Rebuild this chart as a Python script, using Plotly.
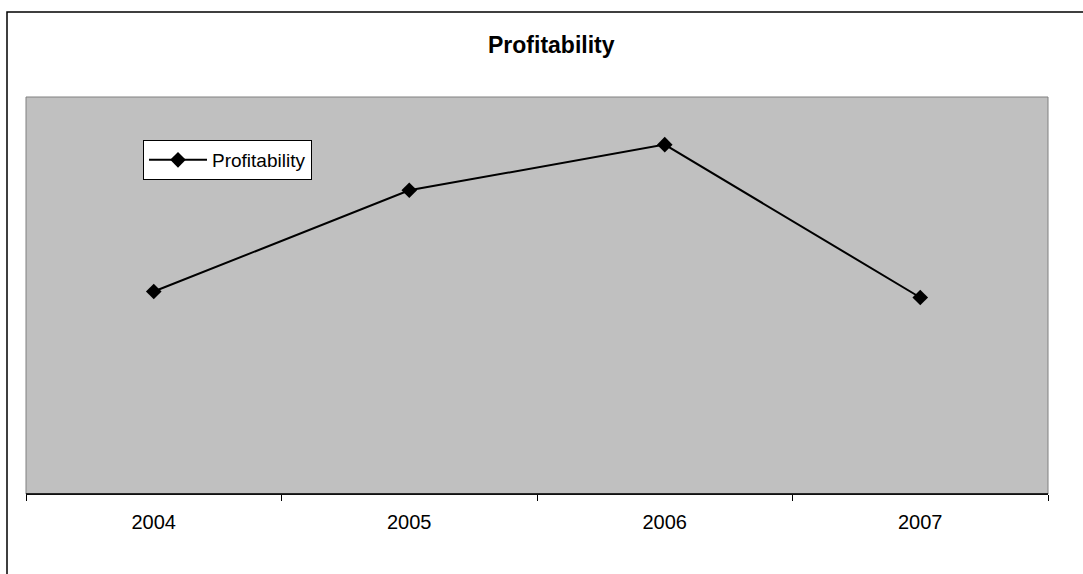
import plotly.graph_objects as go

years = ["2004", "2005", "2006", "2007"]
profitability = [10.2, 15.3, 17.6, 9.9]
series_name = "Profitability"
title_text = "Profitability"

W, H = 1083, 574
L, R, T, B = 26, 35, 97, 80
pw, ph = W - L - R, H - T - B

def px_x(px):
    return (px - L) / pw

def px_y(py):
    return (H - B - py) / ph

fig = go.Figure()
fig.add_trace(go.Scatter(
    x=years, y=profitability, name=series_name, mode="lines+markers",
    line=dict(color="black", width=2),
    marker=dict(symbol="diamond", size=12, color="black"),
))

fig.update_layout(
    width=W, height=H,
    margin=dict(l=L, r=R, t=T, b=B),
    paper_bgcolor="white",
    plot_bgcolor="#C0C0C0",
    font=dict(family="Liberation Sans, Arial, sans-serif", color="black", size=19),
    showlegend=True,
    legend=dict(
        x=px_x(143), y=px_y(140), xanchor="left", yanchor="top",
        bgcolor="white", bordercolor="black", borderwidth=1,
        font=dict(size=19), itemwidth=58, entrywidth=180,
    ),
    xaxis=dict(
        type="category", range=[-0.5, 3.5],
        tickson="boundaries", ticks="outside", ticklen=6, tickcolor="black",
        showline=True, linecolor="black", linewidth=1,
        showgrid=False, zeroline=False,
        tickfont=dict(size=20), ticklabelstandoff=10,
    ),
    yaxis=dict(
        range=[0, 20], visible=False, showgrid=False, zeroline=False,
    ),
    annotations=[dict(
        text="<b>" + title_text + "</b>", xref="paper", yref="paper",
        x=px_x(551), y=px_y(45), xanchor="center", yanchor="middle",
        showarrow=False, font=dict(size=23, color="black"),
    )],
    shapes=[
        dict(type="rect", xref="paper", yref="paper", x0=0, x1=1, y0=0, y1=1,
             line=dict(color="#808080", width=1), layer="above"),
        dict(type="line", xref="paper", yref="paper", x0=0, x1=1, y0=0, y1=0,
             line=dict(color="black", width=1.5), layer="above"),
        dict(type="rect", xref="paper", yref="paper",
             x0=px_x(7), x1=px_x(1090), y0=px_y(12), y1=px_y(590),
             line=dict(color="black", width=1.5), layer="above"),
    ],
)

fig.write_html("out.html")
